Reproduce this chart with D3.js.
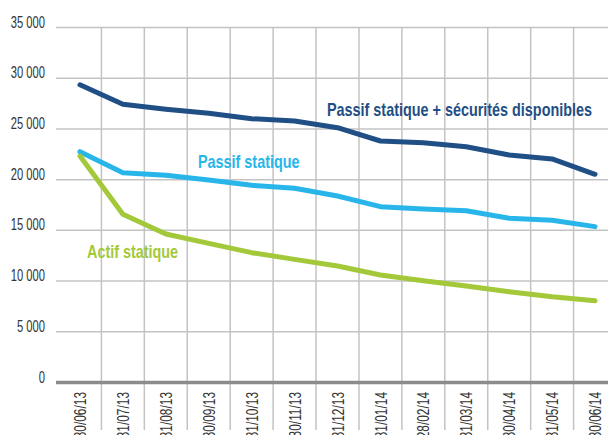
<html>
  <head>
    <meta charset="utf-8">
    <script src="https://d3js.org/d3.v7.min.js"></script>
    <style>
      body { margin: 0; background: #fff; }
      svg { font-family: "Liberation Sans", Arial, sans-serif; }
      .grid line { stroke: #c3c3c3; stroke-width: 1.5; }
      .axis text { fill: #333; font-size: 16px; }
      .line { fill: none; stroke-width: 5; stroke-linecap: round; stroke-linejoin: round; }
      .label { font-weight: bold; font-size: 18px; }
    </style>
  </head>
  <body>
    <div id="chart"></div>
    <script>
var dates = ["30/06/13", "31/07/13", "31/08/13", "30/09/13", "31/10/13", "30/11/13", "31/12/13",
             "31/01/14", "28/02/14", "31/03/14", "30/04/14", "31/05/14", "30/06/14"];
var passifSecurites = [29300, 27380, 26890, 26490, 25960, 25730, 25070, 23760, 23590, 23200, 22380, 21990, 20480];
var passifStatique = [22710, 20640, 20380, 19920, 19390, 19100, 18340, 17290, 17060, 16890, 16140, 15940, 15320];
var actifStatique = [22280, 16530, 14590, 13670, 12750, 12090, 11440, 10550, 9990, 9470, 8900, 8410, 8020];
var yTicks = [0, 5000, 10000, 15000, 20000, 25000, 30000, 35000];

var series = [
  {name: "Passif statique + sécurités disponibles", values: passifSecurites, color: "#1f4f85", lx: 327, ly: 116},
  {name: "Passif statique", values: passifStatique, color: "#28b6ea", lx: 198, ly: 168},
  {name: "Actif statique", values: actifStatique, color: "#a3c83a", lx: 87, ly: 258}
];

var width = 608;
var height = 435;
var left = 56;
var squeeze = 0.7;      // condensed look, no narrow font available
var labelSqueeze = 0.8;

var svg = d3.select("#chart").append("svg")
  .attr("width", width)
  .attr("height", height);

/* Scales */
var x = d3.scaleBand()
  .domain(dates)
  .range([58.5, 616.5]);

var y = d3.scaleLinear()
  .domain([0, 35000])
  .range([382, 27]);

/* Vertical grid between the dates */
svg.append("g")
  .attr("class", "grid")
  .selectAll("line")
  .data(dates.slice(0, -1)).enter()
  .append("line")
  .attr("x1", d => x(d) + x.bandwidth())
  .attr("x2", d => x(d) + x.bandwidth())
  .attr("y1", y(35000))
  .attr("y2", 430);

/* Y axis with horizontal grid */
var fmt = d => d3.format(",")(d).replace(/,/g, " ");
var yAxis = svg.append("g")
  .attr("class", "axis grid")
  .attr("transform", `translate(${left},0)`)
  .call(d3.axisLeft(y).tickValues(yTicks).tickSize(-(width - left)).tickFormat(fmt));
yAxis.select(".domain").remove();
yAxis.selectAll("text")
  .attr("x", 0)
  .attr("y", 0)
  .attr("dy", "0")
  .attr("transform", `translate(-11,0) scale(${squeeze},1)`);
yAxis.selectAll(".tick")
  .filter(d => d === 0)
  .select("line")
  .style("stroke", "#8c8c8c")
  .style("stroke-width", 3.5);

/* X axis labels, rotated */
var xAxis = svg.append("g")
  .attr("class", "axis")
  .attr("transform", `translate(0,${y(0)})`)
  .call(d3.axisBottom(x).tickSize(0));
xAxis.select(".domain").remove();
xAxis.selectAll("text")
  .style("font-size", "17px")
  .attr("transform", `rotate(-90) scale(${squeeze},1)`)
  .attr("text-anchor", "end")
  .attr("x", -10 / squeeze)
  .attr("y", 0)
  .attr("dy", "0.36em");

/* Lines */
var line = d3.line()
  .x((d, i) => x(dates[i]) + x.bandwidth() / 2)
  .y(d => y(d));

svg.append("g")
  .selectAll("path")
  .data(series).enter()
  .append("path")
  .attr("class", "line")
  .attr("d", d => line(d.values))
  .style("stroke", d => d.color);

/* Series labels */
svg.append("g")
  .selectAll("text")
  .data(series).enter()
  .append("text")
  .attr("class", "label")
  .attr("transform", d => `translate(${d.lx},${d.ly}) scale(${labelSqueeze},1)`)
  .style("fill", d => d.color)
  .text(d => d.name);
    </script>
  </body>
</html>
